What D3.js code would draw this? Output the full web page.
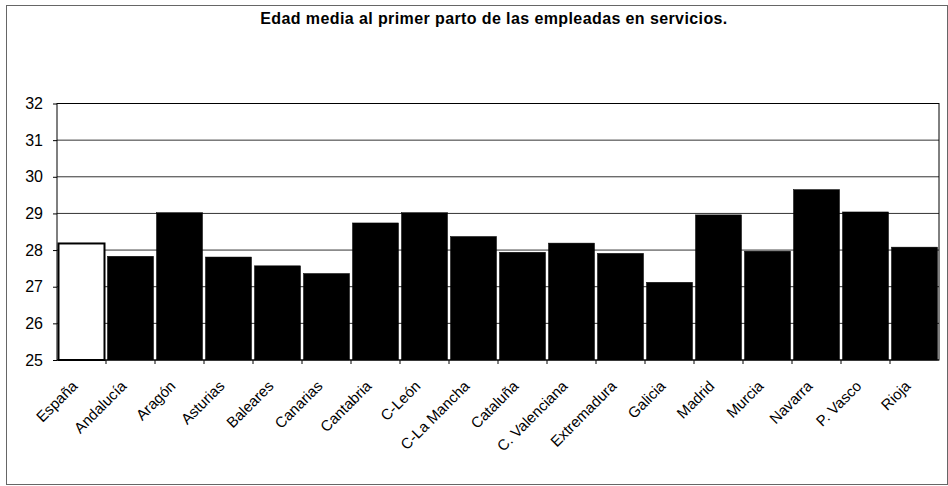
<!DOCTYPE html>
<html>
<head>
<meta charset="utf-8">
<script src="https://cdn.jsdelivr.net/npm/d3@7"></script>
<style>
  body { margin: 0; background: #fff; }
  svg { display: block; font-family: "Liberation Sans", Arial, sans-serif; }
</style>
</head>
<body>
<svg id="chart" width="948" height="486"></svg>
<script>
const regions = ["España", "Andalucía", "Aragón", "Asturias", "Baleares", "Canarias", "Cantabria",
  "C-León", "C-La Mancha", "Cataluña", "C. Valenciana", "Extremadura", "Galicia", "Madrid",
  "Murcia", "Navarra", "P. Vasco", "Rioja"];
const edadMedia = [28.18, 27.83, 29.02, 27.81, 27.57, 27.36, 28.74, 29.02, 28.37, 27.94,
  28.19, 27.91, 27.12, 28.96, 27.97, 29.65, 29.04, 28.08];
const yTicks = [25, 26, 27, 28, 29, 30, 31, 32];

const svg = d3.select("#chart");
const margin = { left: 57, right: 9, top: 103.5, bottom: 126 };
const width = +svg.attr("width");
const height = +svg.attr("height");

// outer frame
svg.append("rect")
  .attr("x", 6.5).attr("y", 5.5)
  .attr("width", 941).attr("height", 479)
  .attr("fill", "none").attr("stroke", "#666").attr("stroke-width", 1);

svg.append("text")
  .attr("x", 494).attr("y", 24)
  .attr("text-anchor", "middle")
  .attr("font-size", 16).attr("font-weight", "bold")
  .attr("letter-spacing", 0.4)
  .text("Edad media al primer parto de las empleadas en servicios.");

const x = d3.scaleBand()
  .domain(regions)
  .range([margin.left, width - margin.right])
  .padding(0);

const y = d3.scaleLinear()
  .domain([25, 32])
  .range([height - margin.bottom, margin.top]);

// gridlines
svg.append("g")
  .selectAll("line")
  .data(yTicks)
  .enter()
  .append("line")
  .attr("x1", x.range()[0]).attr("x2", x.range()[1])
  .attr("y1", (d) => y(d)).attr("y2", (d) => y(d))
  .attr("stroke", "#333").attr("stroke-width", 1);

// bars
svg.append("g")
  .selectAll("rect")
  .data(regions)
  .enter()
  .append("rect")
  .attr("x", (d) => x(d) + 1.5)
  .attr("width", x.bandwidth() - 3)
  .attr("y", (d, i) => y(edadMedia[i]))
  .attr("height", (d, i) => y(25) - y(edadMedia[i]))
  .attr("fill", (d, i) => (i === 0 ? "#fff" : "#000"))
  .attr("stroke", "#000")
  .attr("stroke-width", (d, i) => (i === 0 ? 2 : 0.5));

// plot frame
svg.append("rect")
  .attr("x", x.range()[0]).attr("y", y(32))
  .attr("width", x.range()[1] - x.range()[0])
  .attr("height", y(25) - y(32))
  .attr("fill", "none").attr("stroke", "#000").attr("stroke-width", 1);

// y axis
const yAxis = svg.append("g")
  .attr("transform", `translate(${margin.left},0)`)
  .call(d3.axisLeft(y).tickValues(yTicks).tickSize(4).tickPadding(10).tickFormat(d3.format("d")));
yAxis.select(".domain").remove();
yAxis.selectAll("text").attr("font-size", 16).attr("fill", "#000")
  .attr("font-family", "Liberation Sans, Arial, sans-serif");

// x axis ticks at band edges
svg.append("g")
  .selectAll("line")
  .data(regions.slice(1))
  .enter()
  .append("line")
  .attr("x1", (d) => x(d)).attr("x2", (d) => x(d))
  .attr("y1", y(25)).attr("y2", y(25) + 4)
  .attr("stroke", "#000");

svg.append("g")
  .selectAll("text")
  .data(regions)
  .enter()
  .append("text")
  .attr("transform", (d) => `translate(${x(d) + x.bandwidth() / 2 - 3},${y(25) + 27}) rotate(-45)`)
  .attr("text-anchor", "end")
  .attr("font-size", 15)
  .text((d) => d);
</script>
</body>
</html>
